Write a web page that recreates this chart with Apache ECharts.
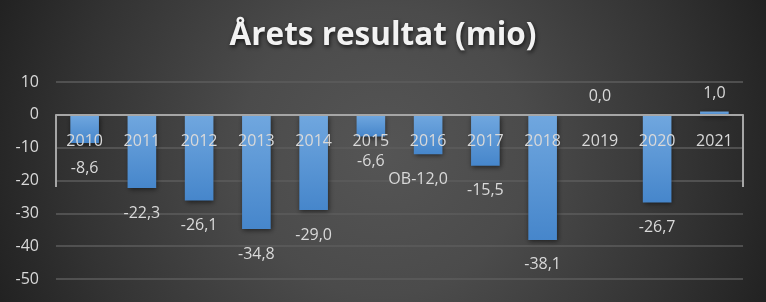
<!DOCTYPE html>
<html>
<head>
<meta charset="utf-8">
<script src="https://cdn.jsdelivr.net/npm/echarts@6/dist/echarts.min.js"></script>
<style>html,body{margin:0;padding:0;background:#2a2a2a}#c{width:766px;height:302px}</style>
</head>
<body>
<div id="c"></div>
<script>
const titleText = 'Årets resultat (mio)';
const categories = ['2010','2011','2012','2013','2014','2015','2016','2017','2018','2019','2020','2021'];
const values = [-8.6, -22.3, -26.1, -34.8, -29.0, -6.6, -12.0, -15.5, -38.1, 0.0, -26.7, 1.0];
const labelPrefixes = ['', '', '', '', '', '', 'OB', '', '', '', '', ''];
const yTicks = { min: -50, max: 10, interval: 10 };

const fmt = v => v.toFixed(1).replace('.', ',');
const FONT = 'Open Sans';
const GRID = { left: 56, right: 23, top: 82, bottom: 23 };
const plotH = 302 - GRID.top - GRID.bottom;
const zeroOffset = -plotH * (0 - yTicks.min) / (yTicks.max - yTicks.min);
const AXIS_GREY = '#a6a6a6';

const chart = echarts.init(document.getElementById('c'), null, { renderer: 'canvas' });
chart.setOption({
  animation: false,
  backgroundColor: {
    type: 'radial', x: 0.5, y: 0.5, r: 1.36,
    colorStops: [
      { offset: 0, color: '#555555' },
      { offset: 0.35, color: '#4b4b4b' },
      { offset: 0.75, color: '#333333' },
      { offset: 1, color: '#222222' }
    ]
  },
  title: {
    text: titleText,
    left: 'center',
    top: 15,
    textStyle: {
      color: '#f2f2f2', fontFamily: FONT, fontWeight: 'bold', fontSize: 31.5,
      textShadowColor: 'rgba(0,0,0,0.7)', textShadowBlur: 4, textShadowOffsetX: 1, textShadowOffsetY: 2
    }
  },
  grid: Object.assign({ containLabel: false, outerBoundsMode: 'none' }, GRID),
  xAxis: {
    type: 'category',
    data: categories,
    position: 'bottom',
    offset: zeroOffset,
    axisLine: { onZero: false, lineStyle: { color: AXIS_GREY, width: 2 } },
    axisTick: { show: false },
    axisLabel: { color: '#d9d9d9', fontFamily: FONT, fontSize: 16, margin: 19, interval: 0 },
    splitLine: { show: false },
    z: 5
  },
  yAxis: {
    type: 'value',
    min: yTicks.min, max: yTicks.max, interval: yTicks.interval,
    axisLine: { show: false },
    axisTick: { show: false },
    axisLabel: { color: '#d9d9d9', fontFamily: FONT, fontSize: 16, margin: 17 },
    splitLine: { lineStyle: { color: '#5c5c5c', width: 1.5 } }
  },
  series: [{
    type: 'bar',
    barWidth: '50%',
    z: 2,
    data: values.map((v, i) => ({
      value: v,
      label: Object.assign(
        v >= 0 ? { position: 'top', distance: 10 } : { position: 'bottom', distance: 17 },
        labelPrefixes[i] ? { offset: [-10, 0] } : {})
    })),
    itemStyle: {
      color: {
        type: 'linear', x: 0, y: 0, x2: 0, y2: 1,
        colorStops: [{ offset: 0, color: '#70a7df' }, { offset: 1, color: '#4686cb' }]
      },
      shadowColor: 'rgba(0,0,0,0.55)', shadowBlur: 5, shadowOffsetX: 1, shadowOffsetY: 2
    },
    label: {
      show: true,
      color: '#d9d9d9', fontFamily: FONT, fontSize: 16,
      formatter: p => labelPrefixes[p.dataIndex] + fmt(p.value)
    }
  }]
});

// Boundary tick lines at both ends of the category axis, placed via the chart's own scales.
const px0 = chart.convertToPixel({ xAxisIndex: 0 }, categories[0]);
const px1 = chart.convertToPixel({ xAxisIndex: 0 }, categories[1]);
const pxN = chart.convertToPixel({ xAxisIndex: 0 }, categories[categories.length - 1]);
const band = px1 - px0;
const yZero = chart.convertToPixel({ yAxisIndex: 0 }, 0);
const yEnd = chart.convertToPixel({ yAxisIndex: 0 }, -22);
const tickLine = x => ({
  type: 'line', z: 5, silent: true,
  shape: { x1: x, y1: yZero, x2: x, y2: yEnd },
  style: { stroke: AXIS_GREY, lineWidth: 2 }
});
chart.setOption({ graphic: [tickLine(px0 - band / 2), tickLine(pxN + band / 2)] });
</script>
</body>
</html>
